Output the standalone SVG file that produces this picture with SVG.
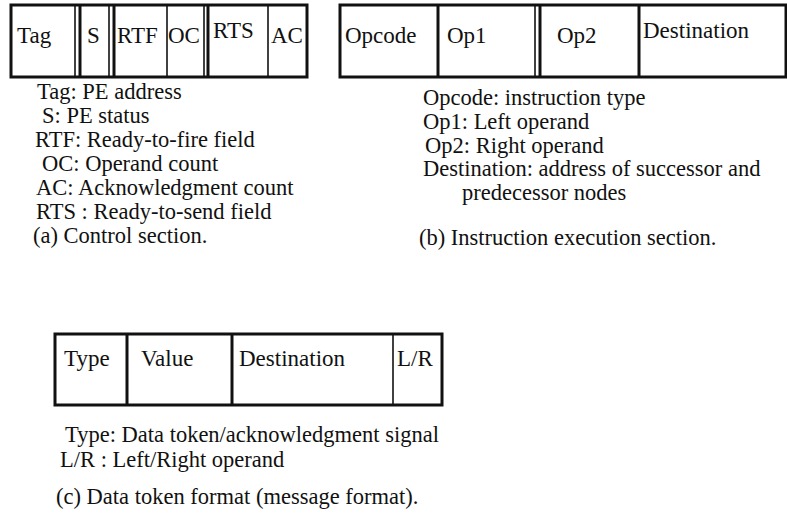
<svg xmlns="http://www.w3.org/2000/svg" width="787" height="528" viewBox="0 0 787 528">
<style>
text{font-family:"Liberation Serif","Times New Roman",serif;font-size:22.5px;fill:#111}
.bt{font-size:23px}
.box{fill:#fff;stroke:#111;stroke-width:3}
.th{stroke:#111;stroke-width:3}
.tn{stroke:#111;stroke-width:1.6}
</style>
<rect width="787" height="528" fill="#fff"/>
<g id="control-box">
<rect class="box" x="11" y="5" width="296" height="72"/>
<line class="tn" x1="75" y1="5" x2="75" y2="77"/><line class="th" x1="80" y1="5" x2="80" y2="77"/>
<line class="tn" x1="109" y1="5" x2="109" y2="77"/><line class="th" x1="114" y1="5" x2="114" y2="77"/>
<line class="tn" x1="167" y1="5" x2="167" y2="77"/>
<line class="tn" x1="204" y1="5" x2="204" y2="77"/><line class="th" x1="208" y1="5" x2="208" y2="77"/>
<line class="tn" x1="268" y1="5" x2="268" y2="77"/>
<text class="bt" x="17" y="43">Tag</text>
<text class="bt" x="87" y="43">S</text>
<text class="bt" x="117" y="43">RTF</text>
<text class="bt" x="168" y="43">OC</text>
<text class="bt" x="213" y="38">RTS</text>
<text class="bt" x="271" y="43">AC</text>
</g>
<g id="control-legend">
<text x="37" y="99">Tag: PE address</text>
<text x="42" y="123">S: PE status</text>
<text x="35" y="147">RTF: Ready-to-fire field</text>
<text x="42" y="171">OC: Operand count</text>
<text x="36" y="195">AC: Acknowledgment count</text>
<text x="36" y="219">RTS : Ready-to-send field</text>
<text x="33" y="243">(a) Control section.</text>
</g>
<g id="instruction-box">
<rect class="box" x="340" y="5" width="446" height="72"/>
<line class="th" x1="438" y1="5" x2="438" y2="77"/>
<line class="tn" x1="535" y1="5" x2="535" y2="77"/><line class="th" x1="540" y1="5" x2="540" y2="77"/>
<line class="th" x1="639" y1="5" x2="639" y2="77"/>
<text class="bt" x="345" y="43">Opcode</text>
<text class="bt" x="447" y="43">Op1</text>
<text class="bt" x="557" y="43">Op2</text>
<text class="bt" x="643" y="38">Destination</text>
</g>
<g id="instruction-legend">
<text x="423" y="105">Opcode: instruction type</text>
<text x="423" y="129">Op1: Left operand</text>
<text x="425" y="153">Op2: Right operand</text>
<text x="423" y="176">Destination: address of successor and</text>
<text x="462" y="200">predecessor nodes</text>
<text x="419" y="245">(b) Instruction execution section.</text>
</g>
<g id="token-box">
<rect class="box" x="55" y="334" width="387" height="71"/>
<line class="th" x1="127" y1="334" x2="127" y2="405"/>
<line class="th" x1="232" y1="334" x2="232" y2="405"/>
<line class="tn" x1="393" y1="334" x2="393" y2="405"/>
<text class="bt" x="64" y="366">Type</text>
<text class="bt" x="141" y="366">Value</text>
<text class="bt" x="239" y="366">Destination</text>
<text class="bt" x="397" y="366">L/R</text>
</g>
<g id="token-legend">
<text x="65" y="442">Type: Data token/acknowledgment signal</text>
<text x="60" y="467">L/R : Left/Right operand</text>
<text x="56" y="504">(c) Data token format (message format).</text>
</g>
<g id="connectors"></g>
</svg>
